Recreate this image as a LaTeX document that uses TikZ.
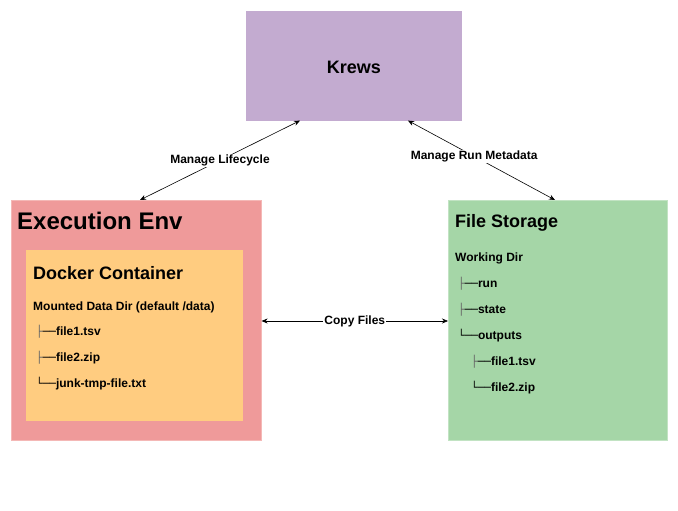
\documentclass[tikz,border=0pt]{standalone}
\usepackage{fontspec}
\setmainfont{Liberation Sans}
\newfontfamily\boxfont{DejaVu Sans}
\usetikzlibrary{arrows.meta,calc}
\definecolor{krewsfill}{HTML}{C3ABD0}
\definecolor{execfill}{HTML}{EF9A9A}
\definecolor{execline}{HTML}{F4B8B6}
\definecolor{dockfill}{HTML}{FFCC80}
\definecolor{storfill}{HTML}{A5D6A7}
\definecolor{storline}{HTML}{C2E3C3}
\definecolor{treegray}{HTML}{666666}
\tikzset{
  box/.style={rectangle, anchor=north west, inner sep=0pt, line width=0.6pt},
  txt/.style={anchor=west, inner sep=0pt, font=\bfseries\fontsize{12}{14}\selectfont},
  conn/.style={line width=0.6pt, {Stealth[length=6pt,width=5pt]}-{Stealth[length=6pt,width=5pt]}},
  lbl/.style={fill=white, inner sep=1pt, font=\bfseries\fontsize{12}{14}\selectfont}
}
\newcommand{\treetee}{{\boxfont\mdseries\fontsize{11}{13}\selectfont\textcolor{treegray}{├}──}}
\newcommand{\treeell}{{\boxfont\mdseries\fontsize{11}{13}\selectfont └──}}
\begin{document}
\begin{tikzpicture}[x=1pt,y=-1pt]
\useasboundingbox (0,0) rectangle (678,511);
% boxes
\node[box, fill=krewsfill, draw=krewsfill, minimum width=215pt, minimum height=109pt] (krews) at (246,11) {};
\node[font=\bfseries\fontsize{18}{21}\selectfont] (krewst) at ($(krews.center)+(0,2)$) {Krews};
\node[box, fill=execfill, draw=execline, minimum width=250pt, minimum height=240pt] (exec) at (11,200) {};
\node[box, fill=dockfill, draw=dockfill, minimum width=216pt, minimum height=170pt] (dock) at (26,250) {};
\node[box, fill=storfill, draw=storline, minimum width=219pt, minimum height=240pt] (stor) at (448,200) {};
% texts
\node[txt, font=\bfseries\fontsize{24}{28}\selectfont] (exect) at (17,221) {Execution Env};
\node[txt, font=\bfseries\fontsize{18}{21}\selectfont] (dockt) at (33,273) {Docker Container};
\node[txt] (mnt) at (33,307) {Mounted Data Dir (default /data)};
\node[txt] (f1) at (36,332) {\treetee file1.tsv};
\node[txt] (f2) at (36,358) {\treetee file2.zip};
\node[txt] (f3) at (36,384) {\treeell junk-tmp-file.txt};
\node[txt, font=\bfseries\fontsize{18}{21}\selectfont] (stort) at (455,223) {File Storage};
\node[txt] (wd) at (455,258) {Working Dir};
\node[txt] (s1) at (458,284) {\treetee run};
\node[txt] (s2) at (458,310) {\treetee state};
\node[txt] (s3) at (458,336) {\treeell outputs};
\node[txt] (s4) at (471,362) {\treetee file1.tsv};
\node[txt] (s5) at (471,388) {\treeell file2.zip};
% connectors
\coordinate (kl) at ($(krews.south west)+(54,0)$);
\coordinate (kr) at ($(krews.south west)+(162,0)$);
\coordinate (et) at ($(exec.north west)+(129,0)$);
\coordinate (st) at ($(stor.north west)+(107,0)$);
\coordinate (er) at ($(exec.north east)+(0,121)$);
\coordinate (sl) at ($(stor.north west)+(0,121)$);
\draw[conn] (et) -- node[lbl, pos=0.5] (l1) {Manage Lifecycle} (kl);
\draw[conn] (kr) -- node[lbl, pos=0.45] (l2) {Manage Run Metadata} (st);
\draw[conn] (er) -- node[lbl, pos=0.5] (l3) {Copy Files} (sl);
\end{tikzpicture}
\end{document}
